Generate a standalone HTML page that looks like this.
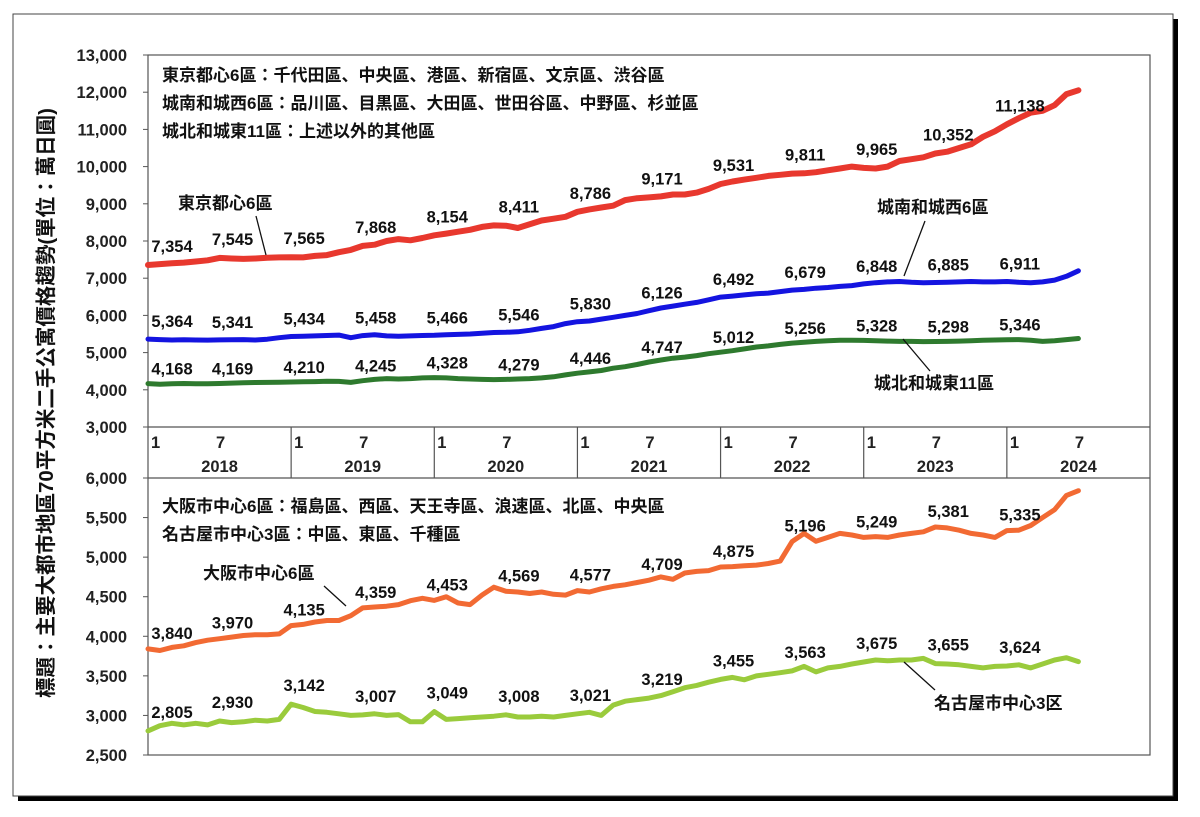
<!DOCTYPE html>
<html><head><meta charset="utf-8"><style>
html,body{margin:0;padding:0;background:#fff;}
svg{display:block;font-family:"Liberation Sans","Noto Sans CJK JP",sans-serif;}
</style></head><body>
<svg id="chart" width="1200" height="817" viewBox="0 0 1200 817">
<rect x="18" y="19" width="1160" height="782" fill="#000"/>
<rect x="13" y="14" width="1160" height="782" fill="#fff" stroke="#444" stroke-width="1"/>
<rect x="148" y="55" width="1002" height="700" fill="#fff" stroke="#555" stroke-width="1.2"/>
<line x1="148" y1="427" x2="1150" y2="427" stroke="#555" stroke-width="1.2"/>
<line x1="148" y1="478" x2="1150" y2="478" stroke="#555" stroke-width="1.2"/>
<text transform="translate(53,403) rotate(-90)" text-anchor="middle" font-size="20.5" font-weight="bold" fill="#111">標題：主要大都市地區70平方米二手公寓價格趨勢(單位：萬日圓)</text>
<g id="notes" font-size="17" font-weight="bold" fill="#111">
<text x="162" y="81">東京都心6區：千代田區、中央區、港區、新宿區、文京區、渋谷區</text>
<text x="162" y="109">城南和城西6區：品川區、目黒區、大田區、世田谷區、中野區、杉並區</text>
<text x="162" y="137">城北和城東11區：上述以外的其他區</text>
<text x="162" y="512">大阪市中心6區：福島區、西區、天王寺區、浪速區、北區、中央區</text>
<text x="162" y="540">名古屋市中心3區：中區、東區、千種區</text>
</g>
<g id="axes"></g>
<g id="series"></g>
<g id="labels" font-size="16.5" font-weight="bold" fill="#111"></g>
<g font-size="17" font-weight="bold" fill="#111">
<text x="178" y="209">東京都心6區</text>
<line x1="256" y1="216" x2="266" y2="255" stroke="#111" stroke-width="1.3"/>
<text x="877" y="213">城南和城西6區</text>
<line x1="925" y1="221" x2="904" y2="276" stroke="#111" stroke-width="1.3"/>
<text x="874" y="389">城北和城東11區</text>
<line x1="903" y1="339" x2="930" y2="371" stroke="#111" stroke-width="1.3"/>
<text x="203" y="579">大阪市中心6區</text>
<line x1="324" y1="586" x2="346" y2="606" stroke="#111" stroke-width="1.3"/>
<text x="934" y="709">名古屋市中心3区</text>
<line x1="904" y1="662" x2="935" y2="690" stroke="#111" stroke-width="1.3"/>
</g>
</svg>
<script>
const years = ["2018","2019","2020","2021","2022","2023","2024"];
const upperTicks = [3000,4000,5000,6000,7000,8000,9000,10000,11000,12000,13000];
const lowerTicks = [2500,3000,3500,4000,4500,5000,5500,6000];
const tokyoCenter = [7354,7380,7400,7420,7450,7480,7545,7530,7520,7530,7550,7560,
7565,7560,7600,7620,7700,7760,7868,7900,8000,8050,8020,8080,
8154,8200,8250,8300,8380,8420,8411,8350,8450,8550,8600,8650,
8786,8850,8900,8950,9100,9150,9171,9200,9250,9250,9300,9400,
9531,9600,9650,9700,9750,9780,9811,9820,9850,9900,9950,10000,
9965,9950,10000,10150,10200,10250,10352,10400,10500,10600,10800,10950,
11138,11300,11450,11500,11650,11950,12050];
const jonan = [5364,5350,5340,5345,5340,5335,5341,5345,5350,5340,5360,5400,
5434,5440,5450,5460,5470,5400,5458,5480,5450,5440,5450,5460,
5466,5480,5490,5500,5520,5540,5546,5560,5600,5650,5700,5780,
5830,5850,5900,5950,6000,6050,6126,6200,6250,6300,6350,6420,
6492,6520,6550,6580,6600,6640,6679,6700,6730,6750,6780,6800,
6848,6880,6900,6910,6890,6880,6885,6890,6900,6910,6900,6900,
6911,6890,6880,6900,6950,7050,7200];
const johoku = [4168,4150,4160,4170,4165,4160,4169,4180,4190,4195,4200,4205,
4210,4215,4220,4230,4225,4200,4245,4280,4300,4290,4300,4320,
4328,4320,4300,4290,4280,4275,4279,4290,4300,4320,4350,4400,
4446,4480,4520,4580,4620,4680,4747,4800,4850,4880,4920,4970,
5012,5050,5100,5150,5180,5220,5256,5280,5300,5320,5330,5330,
5328,5320,5310,5300,5300,5295,5298,5300,5310,5320,5330,5340,
5346,5350,5330,5300,5320,5350,5380];
const osaka = [3840,3820,3860,3880,3920,3950,3970,3990,4010,4020,4020,4030,
4135,4150,4180,4200,4200,4260,4359,4370,4380,4400,4450,4480,
4453,4500,4420,4400,4520,4620,4569,4560,4540,4560,4530,4520,
4577,4560,4600,4630,4650,4680,4709,4750,4720,4800,4820,4830,
4875,4880,4890,4900,4920,4950,5196,5300,5200,5250,5300,5280,
5249,5260,5250,5280,5300,5320,5381,5370,5340,5300,5280,5250,
5335,5340,5400,5500,5600,5780,5840];
const nagoya = [2805,2870,2900,2880,2900,2880,2930,2910,2920,2940,2930,2950,
3142,3100,3050,3040,3020,3000,3007,3020,3000,3010,2920,2920,
3049,2950,2960,2970,2980,2990,3008,2980,2980,2990,2980,3000,
3021,3040,3000,3130,3180,3200,3219,3250,3300,3350,3380,3420,
3455,3480,3450,3500,3520,3540,3563,3620,3550,3600,3620,3650,
3675,3700,3690,3700,3700,3720,3655,3650,3640,3620,3600,3620,
3624,3640,3600,3650,3700,3730,3680];
const labelIdx = [0,6,12,18,24,30,36,42,48,54,60,66,72];

const NS="http://www.w3.org/2000/svg";
function mk(tag,attrs,parent){const e=document.createElementNS(NS,tag);for(const k in attrs)e.setAttribute(k,attrs[k]);parent.appendChild(e);return e;}
const X0=148,X1=1150,monthW=(X1-X0)/84;
const xS=i=>X0+i*monthW;
const yU=v=>427-(v-3000)*(372/10000);
const yL=v=>755-(v-2500)*(277/3500);
const fmt=v=>v.toLocaleString("en-US");
const axes=document.getElementById("axes");
upperTicks.forEach(t=>{
  const y=yU(t);
  const tl=mk("text",{x:127,y:y+6,"text-anchor":"end","font-size":"16.5","font-weight":"bold",fill:"#222"},axes);
  tl.textContent=fmt(t);
  
  
  const tm=mk("line",{x1:143,y1:y,x2:148,y2:y,stroke:"#555"},axes);
  
  
});
lowerTicks.forEach(t=>{
  const y=yL(t);
  const tl=mk("text",{x:127,y:y+6,"text-anchor":"end","font-size":"16.5","font-weight":"bold",fill:"#222"},axes);
  tl.textContent=fmt(t);
  
  
  const tm=mk("line",{x1:143,y1:y,x2:148,y2:y,stroke:"#555"},axes);
  
  
});
years.forEach((yr,i)=>{
  const x=xS(i*12);
  if(i>0){const d=mk("line",{x1:x,y1:427,x2:x,y2:478,stroke:"#555","stroke-width":1.2},axes);
  
  }
  const m1=mk("text",{x:x+3,y:448,"font-size":"16.5","font-weight":"bold",fill:"#222"},axes);m1.textContent="1";
  
  
  const m7=mk("text",{x:xS(i*12+6)+1,y:448,"text-anchor":"middle","font-size":"16.5","font-weight":"bold",fill:"#222"},axes);m7.textContent="7";
  
  
  const yl=mk("text",{x:xS(i*12+6),y:472,"text-anchor":"middle","font-size":"16.5","font-weight":"bold",fill:"#222"},axes);yl.textContent=yr;
  
  
});
const sg=document.getElementById("series"),lg=document.getElementById("labels");
function drawSeries(data,yf,color,w,name,off){
  const d=data.map((v,i)=>(i?"L":"M")+xS(i).toFixed(1)+","+yf(v).toFixed(1)).join("");
  const p=mk("path",{d:d,fill:"none",stroke:color,"stroke-width":w,"stroke-linejoin":"round","stroke-linecap":"round"},sg);
  
  
  labelIdx.forEach(i=>{
    if(i>=data.length)return;
    const x=Math.max(xS(i)+13,172);
    const t=mk("text",{x:x,y:yf(data[i])-off,"text-anchor":"middle"},lg);
    t.textContent=fmt(data[i]);
    
    
  });
}
drawSeries(tokyoCenter,yU,"#e8382e",6,"tokyo-center",13);
drawSeries(jonan,yU,"#1414e0",5,"jonan-josei",12);
drawSeries(johoku,yU,"#2e7a2e",5,"johoku-joto",9);
drawSeries(osaka,yL,"#f26a33",5,"osaka-center",10);
drawSeries(nagoya,yL,"#9acb3c",5,"nagoya-center",13);
</script>
</body></html>
